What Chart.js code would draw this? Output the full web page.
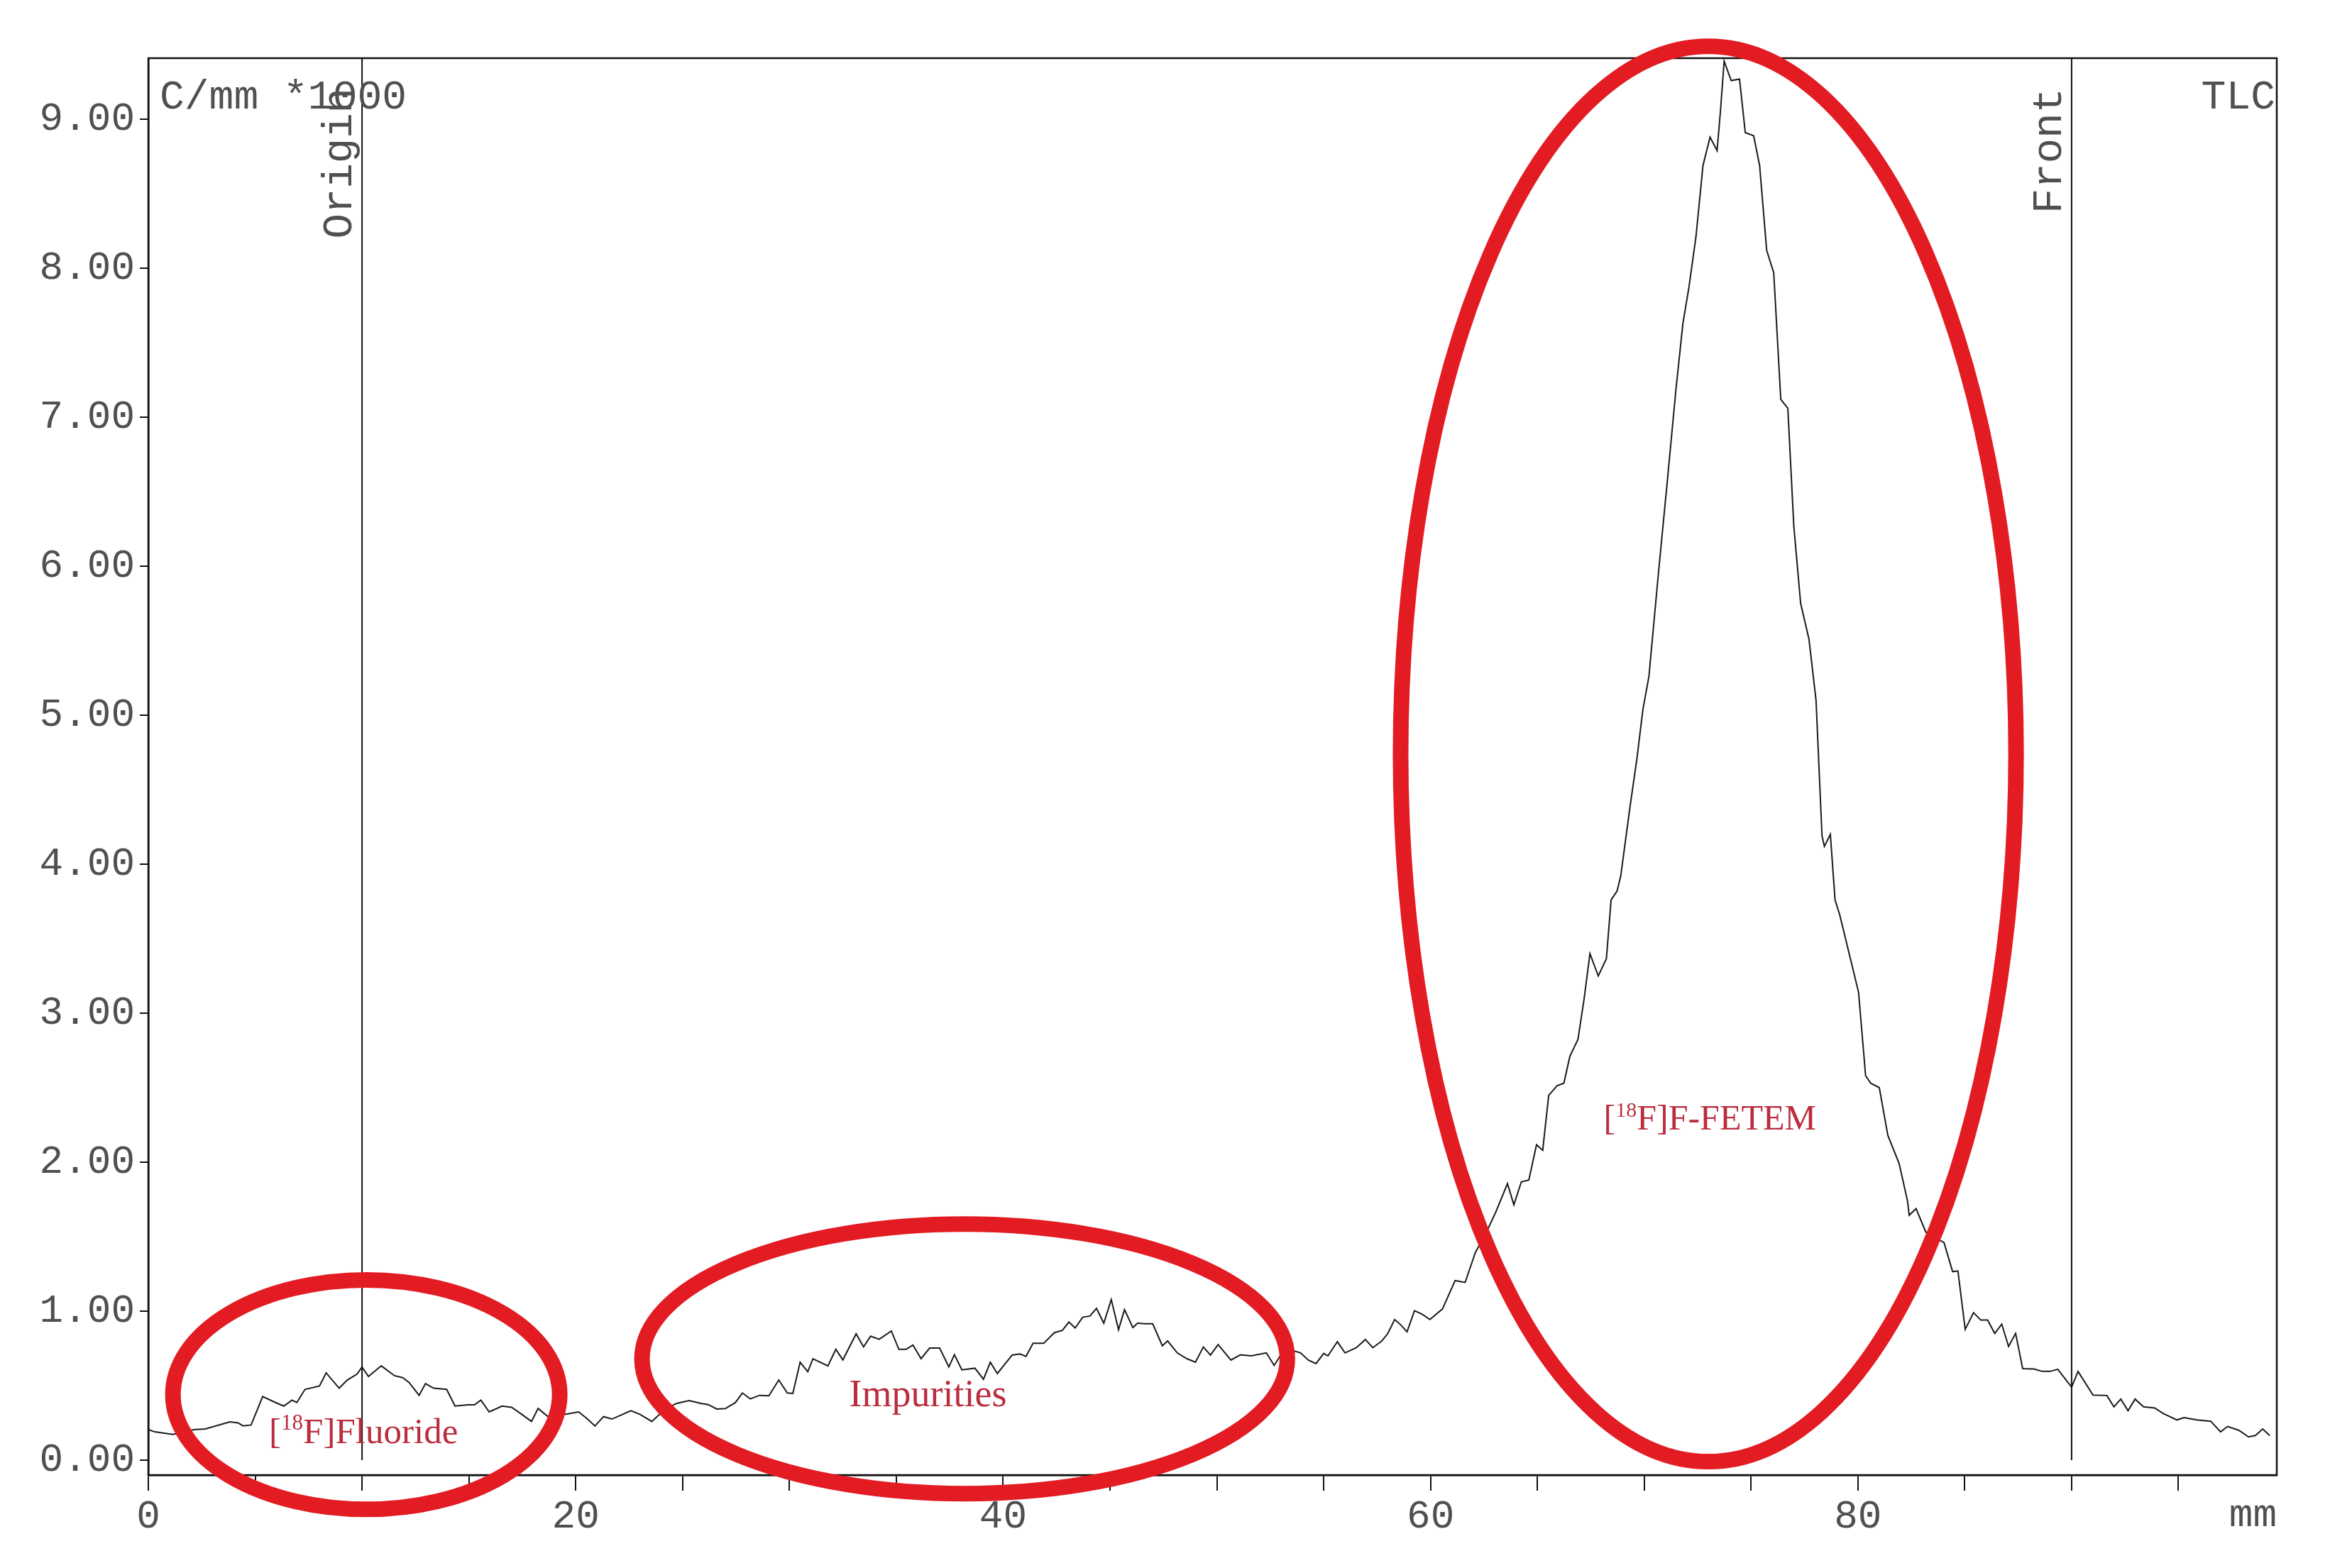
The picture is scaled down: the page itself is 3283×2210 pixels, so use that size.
<!DOCTYPE html>
<html>
<head>
<meta charset="utf-8">
<title>Radio-TLC scan</title>
<script src="https://cdn.jsdelivr.net/npm/chart.js@4.4.1/dist/chart.umd.min.js"></script>
<style>
  html, body { margin: 0; padding: 0; background: #fff; }
  canvas { display: block; }
</style>
</head>
<body>
<canvas id="tlc" width="3283" height="2210"></canvas>
<script>
// scan along the plate: distance (mm) -> counts (C/mm *1000)
const positionMm = [
  0, 0.3, 1.15, 2.14, 2.67, 3.82, 4.2, 4.43, 4.81,
  5.35, 5.95, 6.34, 6.72, 6.95, 7.33, 8.01, 8.32, 8.93, 9.31, 9.77,
  10.0, 10.3, 10.9, 11.52, 11.9, 12.2, 12.67, 12.97, 13.35, 13.96, 14.35, 14.95,
  15.26, 15.56, 15.95, 16.55, 17.0, 17.47, 17.93, 18.24, 18.77, 19.1, 19.53,
  20.14, 20.55, 20.9, 21.3, 21.7, 22.2, 22.58, 23.0, 23.56, 24.17, 24.7,
  25.3, 25.9, 26.2, 26.6, 27.0, 27.47, 27.8, 28.17, 28.6, 29.04, 29.5, 29.9,
  30.16, 30.5, 30.86, 31.1, 31.8, 32.17, 32.5, 33.12, 33.47, 33.8, 34.2, 34.77,
  35.12, 35.46, 35.78, 36.16, 36.56, 37.03, 37.46, 37.72, 38.07, 38.68, 39.08, 39.4, 39.73,
  40.42, 40.78, 41.07, 41.4, 41.9, 42.4, 42.77, 43.08, 43.37, 43.72, 44.06, 44.37, 44.71,
  45.06, 45.4, 45.68, 46.07, 46.3, 46.6, 47.0, 47.45, 47.7, 48.15, 48.6, 49.0, 49.37, 49.7,
  50.06, 50.66, 51.1, 51.61, 52.32, 52.68, 53.04, 53.4, 53.92, 54.28, 54.64,
  55.0, 55.2, 55.64, 56.0, 56.53, 56.95, 57.3, 57.72, 58.0, 58.32, 58.6, 58.9, 59.25, 59.6, 59.97,
  60.56, 61.15, 61.62, 62.1, 62.6, 63.06, 63.6, 63.9, 64.25, 64.6, 64.96,
  65.25, 65.53, 65.92, 66.24, 66.52, 66.9, 67.19, 67.46, 67.85, 68.23, 68.45, 68.73, 68.9, 69.33, 69.66, 69.94,
  70.22, 70.65, 71.1, 71.48, 71.81, 72.09, 72.42, 72.75, 73.08, 73.41, 73.57, 73.74, 74.07, 74.46, 74.73,
  75.12, 75.4, 75.73, 76.06, 76.39, 76.72, 77.0, 77.32, 77.71, 78.04, 78.32, 78.43, 78.71, 78.93, 79.15, 79.59,
  80.03, 80.36, 80.6, 81.0, 81.4, 81.93, 82.32, 82.4, 82.72, 83.18, 84.03, 84.43, 84.68,
  85.02, 85.41, 85.75, 86.07, 86.4, 86.73, 87.05, 87.38, 87.71, 88.24, 88.62, 89.0, 89.35,
  90.0, 90.3, 91.0, 91.65, 91.98, 92.3, 92.64, 92.97, 93.36, 93.89, 94.28, 94.93,
  95.26, 95.86, 96.51, 96.97, 97.3, 97.83, 98.28, 98.6, 98.94, 99.27
];
const countsK = [
  0.205, 0.19, 0.173, 0.205, 0.21, 0.257, 0.25, 0.23, 0.236,
  0.427, 0.387, 0.363, 0.403, 0.387, 0.475, 0.498, 0.586, 0.483, 0.538, 0.578,
  0.625, 0.562, 0.633, 0.567, 0.554, 0.522, 0.435, 0.514, 0.483, 0.475, 0.363, 0.371,
  0.371, 0.403, 0.324, 0.363, 0.355, 0.308, 0.26, 0.347, 0.284, 0.308, 0.308,
  0.324, 0.276, 0.229, 0.292, 0.276, 0.308, 0.332, 0.308, 0.26, 0.34, 0.38,
  0.40, 0.38, 0.373, 0.343, 0.346, 0.386, 0.451, 0.411, 0.435, 0.432, 0.538, 0.451,
  0.448, 0.657, 0.594, 0.681, 0.633, 0.744, 0.673, 0.848, 0.76, 0.832, 0.811, 0.867,
  0.744, 0.744, 0.773, 0.681, 0.752, 0.752, 0.625, 0.708, 0.606, 0.617, 0.543, 0.657, 0.581,
  0.705, 0.713, 0.697, 0.784, 0.784, 0.856, 0.871, 0.927, 0.887, 0.959, 0.967, 1.019, 0.919,
  1.078, 0.876, 1.01, 0.89, 0.92, 0.915, 0.915, 0.768, 0.80, 0.72, 0.681, 0.657, 0.76, 0.705,
  0.776, 0.672, 0.707, 0.70, 0.72, 0.636, 0.716, 0.743, 0.72, 0.672, 0.648,
  0.716, 0.70, 0.795, 0.72, 0.755, 0.81, 0.755, 0.80, 0.85, 0.944, 0.909, 0.861, 1.003, 0.98, 0.944,
  1.015, 1.205, 1.193, 1.394, 1.525, 1.667, 1.856, 1.714, 1.868, 1.88, 2.117,
  2.08, 2.448, 2.513, 2.53, 2.71, 2.824, 3.10, 3.40, 3.25, 3.366, 3.76, 3.82, 3.92, 4.38, 4.71, 5.04,
  5.26, 5.93, 6.60, 7.18, 7.63, 7.87, 8.21, 8.69, 8.88, 8.79, 9.06, 9.39, 9.26, 9.27, 8.91,
  8.89, 8.69, 8.12, 7.97, 7.12, 7.06, 6.27, 5.75, 5.51, 5.10, 4.19, 4.12, 4.20, 3.76, 3.66, 3.40,
  3.14, 2.58, 2.53, 2.50, 2.18, 1.99, 1.74, 1.644, 1.688, 1.53, 1.46, 1.265, 1.27,
  0.878, 0.99, 0.94, 0.94, 0.851, 0.913, 0.763, 0.851, 0.614, 0.612, 0.596, 0.596, 0.61,
  0.49, 0.596, 0.437, 0.434, 0.358, 0.41, 0.332, 0.41, 0.358, 0.35, 0.314, 0.27,
  0.286, 0.27, 0.261, 0.19, 0.226, 0.20, 0.156, 0.165, 0.209, 0.165
];

const yTickValues = [0, 1, 2, 3, 4, 5, 6, 7, 8, 9];
const xTickValues = [0, 5, 10, 15, 20, 25, 30, 35, 40, 45, 50, 55, 60, 65, 70, 75, 80, 85, 90, 95];
const xLabelValues = [0, 20, 40, 60, 80];

// origin / solvent front markers
const markerMm = [10, 90];
const markerNames = ['Origin', 'Front'];

// hand drawn circles round the three regions, in axis units: centre, half widths
const ringCentreMm = [10.2, 38.2, 73.0];
const ringCentreK = [0.44, 0.68, 4.74];
const ringHalfMm = [9.05, 15.1, 14.4];
const ringHalfK = [0.77, 0.905, 4.75];
// labels: [text, superscript?] pieces, left x (mm), baseline (counts)
const tagParts = [
  [['[', false], ['18', true], ['F]Fluoride', false]],
  [['Impurities', false]],
  [['[', false], ['18', true], ['F]F-FETEM', false]]
];
const tagMm = [5.65, 32.8, 68.1];
const tagK = [0.115, 0.36, 2.22];
const tagSize = [51, 54, 50];

const MONO = '"Liberation Mono", "DejaVu Sans Mono", monospace';
const SERIF = '"Liberation Serif", "DejaVu Serif", serif';
const INK = '#111';
const LABEL = '#505050';
const RING = '#e31b23';
const TAG = '#bb2d3e';

const overlay = {
  id: 'overlay',
  afterDraw(chart) {
    const { ctx, chartArea: a, scales: { x, y } } = chart;
    ctx.save();

    // frame
    ctx.strokeStyle = INK;
    ctx.lineWidth = 2.5;
    ctx.strokeRect(a.left, a.top, a.right - a.left, a.bottom - a.top);

    // origin / front lines + rotated names
    ctx.lineWidth = 2;
    ctx.fillStyle = LABEL;
    ctx.font = '59px ' + MONO;
    markerMm.forEach((mm, i) => {
      const px = x.getPixelForValue(mm);
      ctx.beginPath();
      ctx.moveTo(px, y.getPixelForValue(0));
      ctx.lineTo(px, a.top);
      ctx.stroke();
      ctx.save();
      ctx.translate(px - 15, a.top + 42);
      ctx.rotate(-Math.PI / 2);
      ctx.textAlign = 'right';
      ctx.textBaseline = 'alphabetic';
      ctx.fillText(markerNames[i], 0, 0);
      ctx.restore();
    });

    // corner texts
    ctx.font = '58px ' + MONO;
    ctx.textBaseline = 'alphabetic';
    ctx.textAlign = 'left';
    ctx.fillText('C/mm *1000', a.left + 16, a.top + 71);
    ctx.textAlign = 'right';
    ctx.fillText('TLC', a.right - 2, a.top + 71);
    ctx.font = '56px ' + MONO;
    ctx.fillText('mm', a.right, a.bottom + 72);

    // red rings
    ctx.strokeStyle = RING;
    ctx.lineWidth = 22;
    ringCentreMm.forEach((cm, i) => {
      const cx = x.getPixelForValue(cm);
      const cy = y.getPixelForValue(ringCentreK[i]);
      const rx = x.getPixelForValue(cm + ringHalfMm[i]) - cx;
      const ry = cy - y.getPixelForValue(ringCentreK[i] + ringHalfK[i]);
      ctx.beginPath();
      ctx.ellipse(cx, cy, rx, ry, 0, 0, Math.PI * 2);
      ctx.stroke();
    });

    // red labels
    ctx.fillStyle = TAG;
    ctx.textAlign = 'left';
    tagParts.forEach((parts, i) => {
      const size = tagSize[i];
      let cx = x.getPixelForValue(tagMm[i]);
      const base = y.getPixelForValue(tagK[i]);
      parts.forEach(([txt, sup]) => {
        ctx.font = (sup ? Math.round(size * 0.6) : size) + 'px ' + SERIF;
        ctx.fillText(txt, cx, sup ? base - size * 0.36 : base);
        cx += ctx.measureText(txt).width;
      });
    });

    ctx.restore();
  }
};

new Chart(document.getElementById('tlc'), {
  type: 'line',
  data: {
    datasets: [{
      data: positionMm.map((mm, i) => ({ x: mm, y: countsK[i] })),
      borderColor: '#1a1a1a',
      borderWidth: 2,
      pointRadius: 0,
      tension: 0,
      fill: false
    }]
  },
  options: {
    responsive: false,
    animation: false,
    devicePixelRatio: 1,
    layout: { padding: { top: 82, right: 75, left: 0, bottom: 0 } },
    plugins: { legend: { display: false }, tooltip: { enabled: false } },
    scales: {
      x: {
        type: 'linear',
        min: 0,
        max: 99.6,
        afterBuildTicks: s => { s.ticks = xTickValues.map(v => ({ value: v })); },
        afterFit: s => { s.height = 131; },
        ticks: {
          autoSkip: false,
          maxRotation: 0,
          padding: 9,
          color: LABEL,
          font: { family: MONO, size: 56, lineHeight: 1 },
          callback: v => xLabelValues.includes(v) ? String(v) : ''
        },
        grid: { drawOnChartArea: false, drawTicks: true, tickLength: 22, color: INK, lineWidth: 2 },
        border: { display: true, color: INK, width: 2.5 }
      },
      y: {
        type: 'linear',
        min: -0.10,
        max: 9.41,
        afterBuildTicks: s => { s.ticks = yTickValues.map(v => ({ value: v })); },
        afterFit: s => { s.width = 209; },
        ticks: {
          padding: 7,
          color: LABEL,
          font: { family: MONO, size: 56, lineHeight: 1 },
          callback: v => v.toFixed(2)
        },
        grid: { drawOnChartArea: false, drawTicks: true, tickLength: 12, color: INK, lineWidth: 2 },
        border: { display: true, color: INK, width: 2.5 }
      }
    }
  },
  plugins: [overlay]
});
</script>
</body>
</html>
